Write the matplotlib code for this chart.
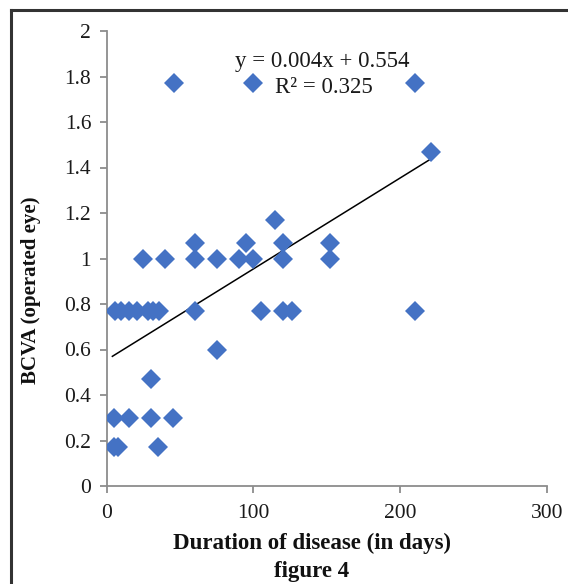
import matplotlib
matplotlib.use("Agg")
import matplotlib.pyplot as plt
from matplotlib.lines import Line2D
import numpy as np

# ---- data ----
duration = [46, 100, 210, 221, 115,
            60, 95, 120, 152,
            25, 40, 60, 75, 90, 100, 120, 152,
            6, 10, 15, 21, 28, 32, 36, 60, 105, 120, 126, 210,
            75, 30,
            5, 15, 30, 45,
            5, 8, 35]
bcva = [1.77, 1.77, 1.77, 1.47, 1.17,
        1.07, 1.07, 1.07, 1.07,
        1.0, 1.0, 1.0, 1.0, 1.0, 1.0, 1.0, 1.0,
        0.77, 0.77, 0.77, 0.77, 0.77, 0.77, 0.77, 0.77, 0.77, 0.77, 0.77, 0.77,
        0.6, 0.47,
        0.3, 0.3, 0.3, 0.3,
        0.17, 0.17, 0.17]
slope = 0.004
intercept = 0.554
r2 = 0.325
x_ticks = [0, 100, 200, 300]
y_ticks = [0, 0.2, 0.4, 0.6, 0.8, 1.0, 1.2, 1.4, 1.6, 1.8, 2.0]
y_ticklabels = ["0", "0.2", "0.4", "0.6", "0.8", "1", "1.2", "1.4", "1.6", "1.8", "2"]

plt.rcParams['font.family'] = ['Liberation Serif', 'DejaVu Serif']

W, H = 568, 584
fig = plt.figure(figsize=(W / 100, H / 100), dpi=100)
ax = fig.add_axes([106.5 / W, 1 - 486 / H, (547 - 106.5) / W, (486 - 31) / H])

ax.plot(duration, bcva, linestyle='none', marker='D', markersize=10.5,
        color='#4472C4', markeredgewidth=0, zorder=3)

xl = np.array([min(duration) - 1, max(duration)])
ax.plot(xl, slope * xl + intercept, color='black', linewidth=1.1, zorder=2)

ax.set_xlim(0, 300)
ax.set_ylim(0, 2)
ax.set_xticks(x_ticks)
ax.set_yticks(y_ticks)
ax.set_yticklabels(y_ticklabels)
for s in ['top', 'right']:
    ax.spines[s].set_visible(False)
for s in ['left', 'bottom']:
    ax.spines[s].set_color('#8c8c8c')
    ax.spines[s].set_linewidth(1.3)
ax.tick_params(axis='both', colors='#8c8c8c', length=5, width=1.3,
               labelsize=15.5, labelcolor='#1a1a1a')
ax.tick_params(axis='x', pad=8)
ax.tick_params(axis='y', pad=6)

fig.text(312 / W, 1 - 543 / H, "Duration of disease (in days)", fontsize=16.5,
         fontweight='bold', ha='center', va='center', color='#111111')
fig.text(312 / W, 1 - 571 / H, "figure 4", fontsize=16.5,
         fontweight='bold', ha='center', va='center', color='#111111')
fig.text(31 / W, 1 - 290 / H, "BCVA (operated eye)", fontsize=15,
         fontweight='bold', ha='center', va='center', rotation=90, color='#111111')

fig.text(322 / W, 1 - 61 / H, f"y = {slope:.3f}x + {intercept:.3f}",
         ha='center', va='center', fontsize=16.5, color='#1a1a1a')
fig.text(324 / W, 1 - 88 / H, f"R² = {r2:.3f}",
         ha='center', va='center', fontsize=16.5, color='#1a1a1a')

# outer frame (top and left edges visible in the crop)
fig.add_artist(Line2D([11 / W, 11 / W], [0, 1 - 10 / H], transform=fig.transFigure,
                      color='#333333', linewidth=2.2))
fig.add_artist(Line2D([11 / W, 1], [1 - 10 / H, 1 - 10 / H], transform=fig.transFigure,
                      color='#333333', linewidth=2.2))

fig.savefig("out.png", dpi=100)
